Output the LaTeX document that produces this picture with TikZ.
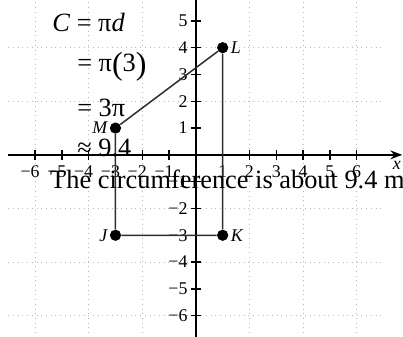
\documentclass[tikz,border=0pt]{standalone}
\usepackage{fontspec}
\setmainfont{Liberation Serif}
\usepackage{xcolor}
\usetikzlibrary{positioning,arrows.meta}
\definecolor{color_grille}{rgb}{0.72,0.72,0.72}
\definecolor{color_trace}{rgb}{0.18,0.18,0.18}

\begin{document}
\begin{tikzpicture}[x=0.5cm,y=0.5cm,
	point/.style={circle,fill=black,inner sep=0pt,minimum size=2.1mm},
	etiquette/.style={inner sep=1pt,font=\fontsize{9.5}{11}\selectfont\itshape},
	graduation/.style={inner sep=0pt,font=\fontsize{9.5}{11}\selectfont}]
		% Cadre de l'image
		\useasboundingbox (-7.31,-6.79) rectangle (7.73,5.78);
		
		% Grille pointillée
		\draw[color_grille, dotted, line width=0.5pt] (-7,-7) grid (7,7);
		
		% Axes
		\coordinate (xdebut) at (-7,0);
		\coordinate (xfin) at (7.7,0);
		\coordinate (ydebut) at (0,-7);
		\coordinate (yfin) at (0,6.8);
		\draw[line width=0.9pt, -{Stealth[length=2.2mm]}] (xdebut) -- (xfin);
		\draw[line width=0.9pt, -{Stealth[length=2.2mm]}] (ydebut) -- (yfin);
		\node[etiquette] (nomx) at (7.5,-0.4) {x};
		
		% Graduations
		\foreach \i in {1,...,6} {
			\draw[line width=0.7pt] (\i,-0.2) -- (\i,0.2);
			\draw[line width=0.7pt] (-\i,-0.2) -- (-\i,0.2);
			\draw[line width=0.7pt] (-0.2,\i) -- (0.2,\i);
			\draw[line width=0.7pt] (-0.2,-\i) -- (0.2,-\i);
			\node[graduation] (gxp\i) at (\i,-0.63) {\i};
			\node[graduation] (gxn\i) at (-\i,-0.63) {\llap{−}\i};
			\node[graduation, anchor=east] (gyp\i) at (-0.3,\i) {\i};
			\node[graduation, anchor=east] (gyn\i) at (-0.3,-\i) {−\i};
		}
		
		% Points du rectangle
		\node[point] (M) at (-3,1) {};
		\node[point] (L) at (1,4) {};
		\node[point] (K) at (1,-3) {};
		\node[point] (J) at (-3,-3) {};
		\draw[color_trace, line width=0.8pt] (M) -- (L) -- (K) -- (J) -- (M);
		\node[etiquette, left=0pt of M] (nomM) {M};
		\node[etiquette, right=0pt of L] (nomL) {L};
		\node[etiquette, right=0pt of K] (nomK) {K};
		\node[etiquette, left=0pt of J] (nomJ) {J};
		
		% Calcul de la circonférence
		\node[anchor=base west, inner sep=0pt] (calcul1) at (-5.37,4.59) 
		{\fontsize{14}{17}\selectfont\textit{C} = π\textit{d}};
		\node[anchor=base west, inner sep=0pt] (calcul2) at (-4.44,3.10) 
		{\fontsize{14}{17}\selectfont = π\raisebox{-1.5pt}{\fontsize{17}{17}\selectfont(}3\raisebox{-1.5pt}{\fontsize{17}{17}\selectfont)}};
		\node[anchor=base west, inner sep=0pt] (calcul3) at (-4.44,1.42) 
		{\fontsize{14}{17}\selectfont = 3π};
		\node[anchor=base west, inner sep=0pt] (calcul4) at (-4.44,-0.07) 
		{\fontsize{14}{17}\selectfont ≈ 9.4};
		
		% Conclusion
		\node[anchor=base west, inner sep=0pt] (conclusion) at (-5.45,-1.27) 
		{\fontsize{14}{17}\selectfont The circumference is about 9.4 m};
	\end{tikzpicture}
\end{document}
